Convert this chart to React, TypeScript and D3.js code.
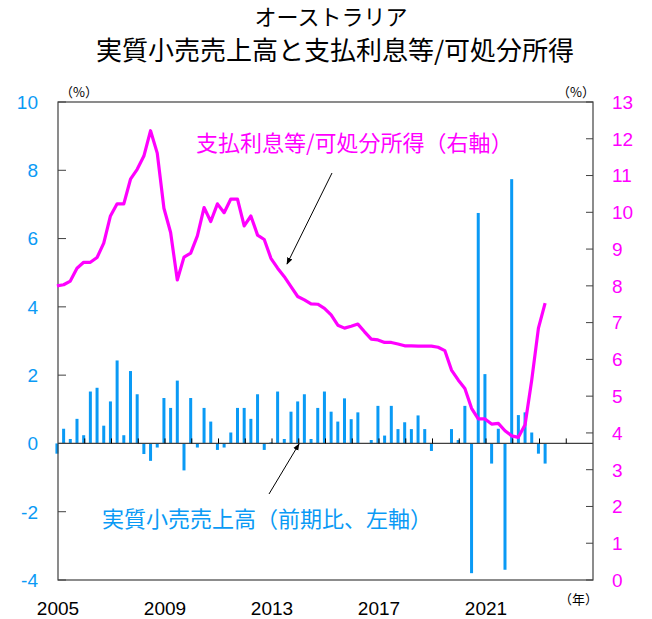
import * as d3 from 'd3';

// quarterly series, starting 2005 Q1
const retailSales = [
  -0.3, 0.43, 0.13, 0.72, 0.24, 1.52, 1.63, 0.52, 1.23, 2.43,
  0.24, 2.12, 1.44, -0.31, -0.51, -0.12, 1.33, 1.04, 1.84, -0.79,
  1.33, -0.12, 1.04, 0.64, -0.19, -0.12, 0.32, 1.04, 1.04, 0.72,
  1.44, -0.19, 0.03, 1.52, 0.13, 0.93, 1.23, 1.44, 0.13, 1.04,
  1.52, 0.93, 0.64, 1.32, 0.71, 0.91, 0, 0.1, 1.1, 0.23,
  1.1, 0.42, 0.62, 0.42, 0.82, 0.42, -0.22, 0, 0, 0.42,
  0.1, 1.1, -3.8, 6.75, 2.03, -0.59, 0.43, -3.7, 7.74, 0.83,
  0.91, 0.32, -0.3, -0.59,
];

const interestRatio = [
  8.0, 8.03, 8.13, 8.48, 8.64, 8.64, 8.77, 9.16, 9.9, 10.23,
  10.23, 10.9, 11.17, 11.53, 12.22, 11.61, 10.11, 9.45, 8.16, 8.78,
  8.89, 9.36, 10.13, 9.75, 10.23, 9.99, 10.36, 10.36, 9.63, 9.9,
  9.38, 9.26, 8.75, 8.48, 8.25, 7.98, 7.71, 7.62, 7.51, 7.5,
  7.39, 7.21, 6.93, 6.85, 6.9, 6.96, 6.75, 6.55, 6.53, 6.46,
  6.46, 6.42, 6.37, 6.37, 6.36, 6.36, 6.36, 6.33, 6.24, 5.71,
  5.44, 5.21, 4.67, 4.38, 4.38, 4.24, 4.26, 4.06, 3.92, 3.88,
  4.22, 5.44, 6.85, 7.53,
];

const yearLabels = [2005, 2009, 2013, 2017, 2021];
const leftTicks = [-4, -2, 0, 2, 4, 6, 8, 10];
const rightTicks = [0, 1, 2, 3, 4, 5, 6, 7, 8, 9, 10, 11, 12, 13];

const BLUE = '#0a9af5';
const MAGENTA = '#ff00ff';
const AXIS = '#404040';
const JP = '"Noto Sans CJK JP", "Noto Sans", sans-serif';
const NUM = '"Liberation Sans", Arial, sans-serif';

export default function App() {
  const width = 652;
  const height = 619;
  const left = 58;
  const right = 593;
  const top = 102;
  const bottom = 580;

  const x = d3.scaleLinear().domain([2005, 2025]).range([left, right]);
  const yL = d3.scaleLinear().domain([-4, 10]).range([bottom, top]);
  const yR = d3.scaleLinear().domain([0, 13]).range([bottom, top]);
  const date = (i: number) => 2005 + i / 4 - 0.04;

  const line = d3
    .line<number>()
    .x((_, i) => x(date(i)))
    .y((d) => yR(d));

  const zero = yL(0);
  const yearTicks = d3.range(2006, 2025);

  return (
    <svg
      width={width}
      height={height}
      style={{ position: 'absolute', left: 0, top: 0, background: '#fff' }}
    >
      {/* title */}
      <text x={331} y={25} textAnchor="middle" fontFamily={JP} fontSize={22} fill="#000">
        オーストラリア
      </text>
      <text x={335} y={60} textAnchor="middle" fontFamily={JP} fontSize={26} fill="#000">
        実質小売売上高と支払利息等/可処分所得
      </text>

      {/* unit labels */}
      <text x={60} y={97} fontFamily={JP} fontSize={13} fill="#000">（%）</text>
      <text x={557} y={97} fontFamily={JP} fontSize={13} fill="#000">（%）</text>
      <text x={559} y={604} fontFamily={JP} fontSize={13} fill="#000">（年）</text>

      {/* bars */}
      {retailSales.map((v, i) => (
        <rect
          key={i}
          x={x(date(i)) - 1.5}
          width={3}
          y={Math.min(yL(v), zero)}
          height={Math.abs(yL(v) - zero)}
          fill={BLUE}
        />
      ))}

      {/* frame */}
      <rect
        x={left}
        y={top}
        width={right - left}
        height={bottom - top}
        fill="none"
        stroke={AXIS}
        strokeWidth={1.2}
      />

      {/* zero line with year ticks */}
      <line x1={left} x2={right} y1={zero} y2={zero} stroke={AXIS} strokeWidth={1.2} />
      {yearTicks.map((yr) => (
        <line key={yr} x1={x(yr)} x2={x(yr)} y1={zero - 5} y2={zero} stroke="#000" strokeWidth={1} />
      ))}

      {/* left axis */}
      {leftTicks.map((t) => (
        <g key={t}>
          <line x1={left} x2={left + 8} y1={yL(t)} y2={yL(t)} stroke={AXIS} strokeWidth={1} />
          <text
            x={38}
            y={yL(t)}
            dy="0.36em"
            textAnchor="end"
            fontFamily={NUM}
            fontSize={19}
            fill={BLUE}
          >
            {t}
          </text>
        </g>
      ))}

      {/* right axis */}
      {rightTicks.map((t) => (
        <g key={t}>
          <line x1={right - 7} x2={right} y1={yR(t)} y2={yR(t)} stroke={AXIS} strokeWidth={1} />
          <text x={612} y={yR(t)} dy="0.36em" fontFamily={NUM} fontSize={19} fill={MAGENTA}>
            {t}
          </text>
        </g>
      ))}

      {/* year labels */}
      {yearLabels.map((yr) => (
        <text
          key={yr}
          x={x(yr)}
          y={615}
          textAnchor="middle"
          fontFamily={NUM}
          fontSize={19}
          fill="#000"
        >
          {yr}
        </text>
      ))}

      {/* interest / disposable income line */}
      <path
        d={line(interestRatio) || ''}
        fill="none"
        stroke={MAGENTA}
        strokeWidth={3.2}
        strokeLinejoin="round"
      />

      {/* annotations */}
      <defs>
        <marker
          id="arrow"
          viewBox="0 0 10 10"
          refX={9}
          refY={5}
          markerWidth={7}
          markerHeight={7}
          orient="auto"
        >
          <path d="M0,1 L10,5 L0,9 z" fill="#000" />
        </marker>
      </defs>
      <line x1={332} y1={173} x2={287} y2={264} stroke="#000" strokeWidth={1} markerEnd="url(#arrow)" />
      <line x1={269} y1={494} x2={299} y2={444} stroke="#000" strokeWidth={1} markerEnd="url(#arrow)" />

      <text x={196} y={151} fontFamily={JP} fontSize={22} fill={MAGENTA}>
        支払利息等/可処分所得（右軸）
      </text>
      <text x={102} y={527} fontFamily={JP} fontSize={22} fill={BLUE}>
        実質小売売上高（前期比、左軸）
      </text>
    </svg>
  );
}
